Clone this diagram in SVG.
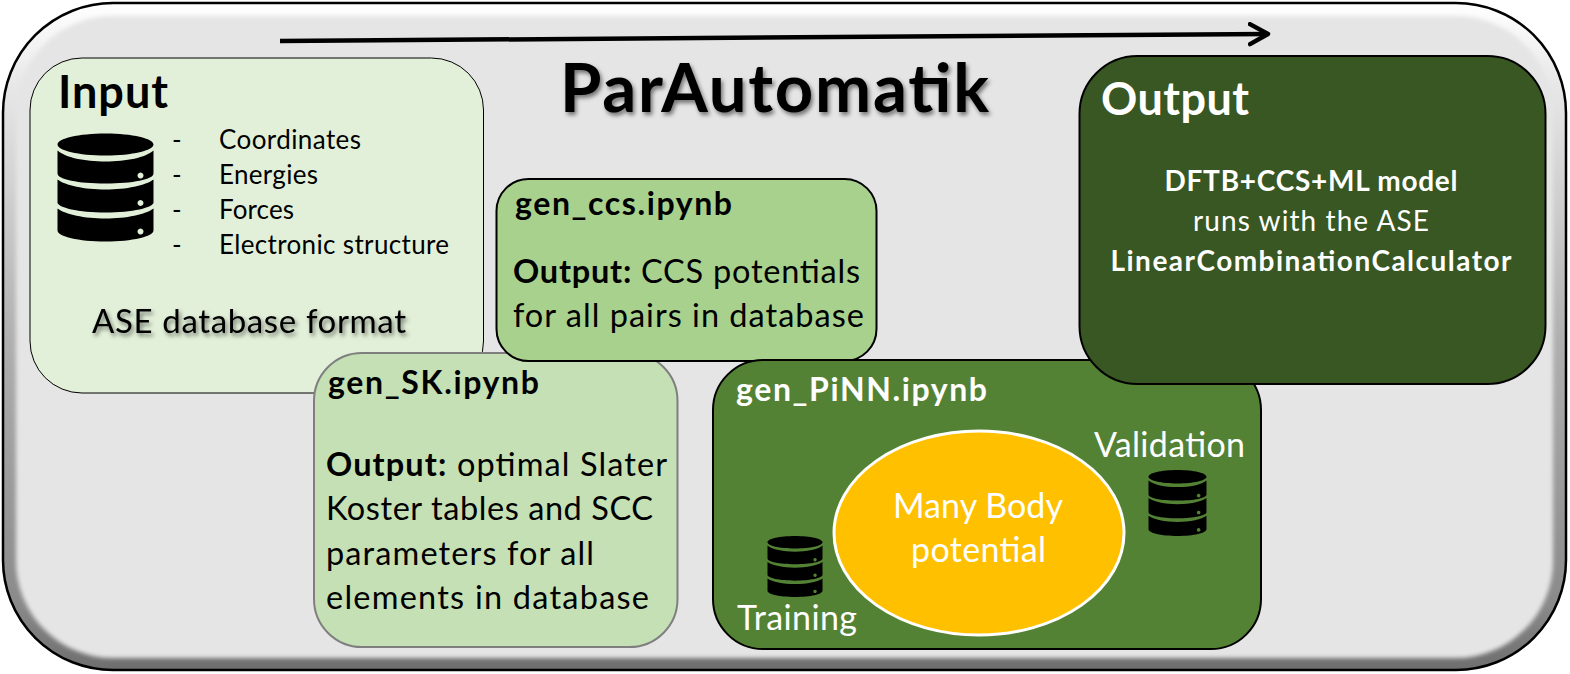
<svg xmlns="http://www.w3.org/2000/svg" width="1570" height="674" viewBox="0 0 1570 674">
<style>
text{font-family:Lato,"Liberation Sans",sans-serif;fill:#000}
.b{font-weight:700}
.w{fill:#fff}
.t28{font-size:32px}
.t26{font-size:32.500px}
.t24{font-size:26px}
.box{stroke:#000;stroke-width:2}
.m{text-anchor:middle}
.ts{filter:url(#soft)}
</style>
<defs>
<linearGradient id="bev" x1="0" y1="0" x2="0" y2="1">
<stop offset="0" stop-color="#fff"/><stop offset="0.12" stop-color="#e8e8e8"/><stop offset="0.5" stop-color="#b0b0b0"/><stop offset="0.9" stop-color="#8a8a8a"/><stop offset="1" stop-color="#6e6e6e"/>
</linearGradient>
<filter id="b6" x="-2%" y="-2%" width="104%" height="104%"><feGaussianBlur stdDeviation="2"/></filter>
<filter id="soft" x="-5%" y="-20%" width="110%" height="150%">
<feDropShadow dx="2" dy="3" stdDeviation="2" flood-color="#000" flood-opacity="0.5"/>
</filter>
<path id="db" fill-rule="evenodd" d="M0,11 C0,5 21,0 48,0 C75,0 96,5 96,11 C96,17 75,22 48,22 C21,22 0,17 0,11 Z
M0,17 C8,24 27,28 48,28 C69,28 88,24 96,17 V40 C96,46 75,50 48,50 C21,50 0,46 0,40 Z M83,39 a3,3 0 1 0 0.01,0 Z
M0,46 C8,52 27,56 48,56 C69,56 88,52 96,46 V69 C96,74 75,79 48,79 C21,79 0,74 0,69 Z M83,66.500 a3,3 0 1 0 0.01,0 Z
M0,75 C8,81 27,85 48,85 C69,85 88,81 96,75 V97 C96,103 75,108 48,108 C21,108 0,103 0,97 Z M83,95 a3,3 0 1 0 0.01,0 Z"/>
<clipPath id="frame"><rect x="4" y="4" width="1561" height="666" rx="108"/></clipPath>
<marker id="head" markerUnits="userSpaceOnUse" markerWidth="24" markerHeight="28" refX="20" refY="12" orient="auto">
<path d="M2,2 L20,12 L2,22" fill="none" stroke="#000" stroke-width="4.500" stroke-linecap="round" stroke-linejoin="round"/>
</marker>
</defs>

<g id="frame-node">
<rect x="3" y="3" width="1563" height="667" rx="110" fill="url(#bev)"/>
<g clip-path="url(#frame)"><rect x="16" y="16" width="1537" height="642" rx="97" fill="#e5e5e5" filter="url(#b6)"/></g>
<rect x="3" y="3" width="1563" height="667" rx="110" fill="none" stroke="#000" stroke-width="2.500"/>
</g>

<g id="connectors">
<line x1="280" y1="41" x2="1268" y2="34" stroke="#000" stroke-width="4.500" marker-end="url(#head)"/>
</g>

<g id="title"><text class="b ts" x="560" y="112" font-size="67" textLength="429">ParAutomatik</text></g>

<g id="input">
<rect class="box" x="30" y="58" width="453.500" height="335" rx="52" fill="#e2f0d9" style="stroke-width:1"/>
<text class="b" x="58" y="108" font-size="45" textLength="110">Input</text>
<use href="#db" x="57.500" y="133.500"/>
<g class="t24">
<text x="172" y="149">-</text><text x="219" y="149" textLength="142">Coordinates</text>
<text x="172" y="184">-</text><text x="219" y="184" textLength="99">Energies</text>
<text x="172" y="219">-</text><text x="219" y="219" textLength="75">Forces</text>
<text x="172" y="254">-</text><text x="219" y="254" textLength="230">Electronic structure</text>
</g>
<text class="ts" x="92" y="333" font-size="33" textLength="314">ASE database format</text>
</g>

<g id="gen-sk">
<rect x="314" y="353" width="363.500" height="294" rx="48" fill="#c5e0b4" stroke="#7f7f7f" stroke-width="2"/>
<text class="b t28" x="328" y="394" textLength="211">gen_SK.ipynb</text>
<text class="t26" x="326" y="476" textLength="341"><tspan class="b">Output:</tspan> optimal Slater</text>
<text class="t26" x="326" y="520" textLength="327">Koster tables and SCC</text>
<text class="t26" x="326" y="565" textLength="268">parameters for all</text>
<text class="t26" x="326" y="609" textLength="323">elements in database</text>
</g>

<g id="gen-ccs">
<rect class="box" x="496.500" y="179" width="380" height="182" rx="32" fill="#a9d18e"/>
<text class="b t28" x="515" y="215" textLength="217">gen_ccs.ipynb</text>
<text class="t26" x="513" y="283" textLength="347"><tspan class="b">Output:</tspan> CCS potentials</text>
<text class="t26" x="513" y="327" textLength="351">for all pairs in database</text>
</g>

<g id="gen-pinn">
<rect class="box" x="713" y="360" width="548" height="289" rx="50" fill="#548235"/>
<text class="b w t28" x="736" y="401" textLength="251">gen_PiNN.ipynb</text>
<use href="#db" transform="translate(767.500 536) scale(0.573 0.565)"/>
<use href="#db" transform="translate(1148.500 470) scale(0.604 0.611)"/>
<text class="w" x="1094" y="457" font-size="34" textLength="151">Validation</text>
<text class="w" x="737" y="630" font-size="34" textLength="120">Training</text>
</g>

<g id="many-body">
<ellipse cx="979" cy="533" rx="145" ry="102" fill="#ffc000" stroke="#fff" stroke-width="3"/>
<text class="w" x="893" y="518" font-size="34" textLength="170">Many Body</text>
<text class="w" x="911" y="562" font-size="34" textLength="135">potential</text>
</g>

<g id="output">
<rect class="box" x="1079.500" y="56" width="466" height="328" rx="58" fill="#385723"/>
<text class="b w" x="1101" y="115" font-size="45" textLength="148">Output</text>
<text class="b w m" x="1311" y="191" font-size="28" textLength="293">DFTB+CCS+ML model</text>
<text class="w m" x="1311" y="231" font-size="28" textLength="236">runs with the ASE</text>
<text class="b w m" x="1311" y="271" font-size="28" textLength="401">LinearCombinationCalculator</text>
</g>
</svg>
